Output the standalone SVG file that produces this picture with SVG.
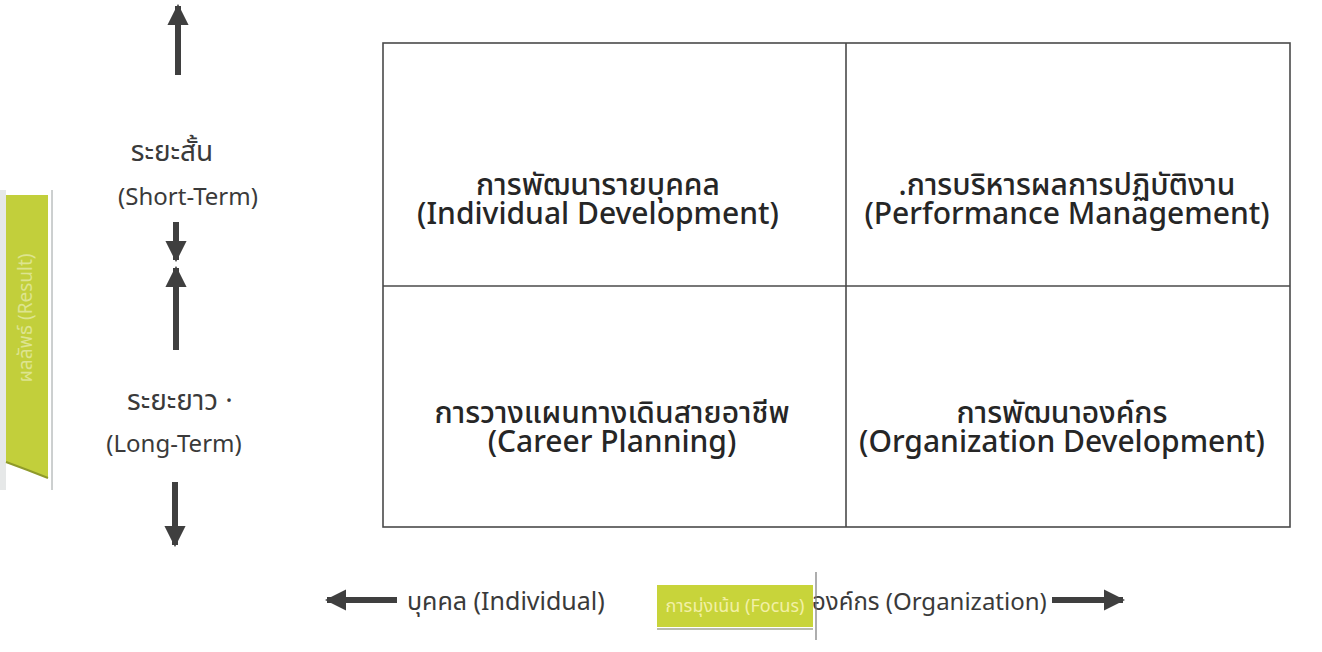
<svg xmlns="http://www.w3.org/2000/svg" width="1322" height="652" viewBox="0 0 1322 652">
<defs>
<style>
.t{font-family:"Noto Sans","Noto Sans Thai",Tahoma,"DejaVu Sans",sans-serif;fill:#333}
.q{font-size:30px;font-weight:500;text-anchor:middle;fill:#262626}
.s{font-size:24px;text-anchor:middle;fill:#3a3a3a}
.st{font-size:28px;text-anchor:middle;fill:#3a3a3a}
.b{font-size:24px;fill:#3a3a3a}
.grid{fill:none;stroke:#4a4a4a;stroke-width:1.6}
</style>
<marker id="ah" viewBox="0 0 10 10" refX="9" refY="5" markerWidth="3.6" markerHeight="3.6" orient="auto-start-reverse">
<path d="M0,0 L10,5 L0,10 z" fill="#3f3f3f"/>
</marker>
</defs>
<rect width="1322" height="652" fill="#ffffff"/>
<g id="side-tab">
<rect x="0" y="190" width="6" height="300" fill="#e6e8e8"/>
<path d="M6,195 L48,195 L48,478 Q28,470 6,462 Z" fill="#c2cf3b"/>
<path d="M6,462 Q28,470 48,478" fill="none" stroke="#8f9a2a" stroke-width="2"/>
<line x1="52" y1="190" x2="52" y2="490" stroke="#9aa0a0" stroke-width="1"/>
<text class="t" transform="translate(32,318) rotate(-90)" text-anchor="middle" font-size="19" style="fill:#dde48f">ผลลัพธ์ (Result)</text>
</g>
<g id="axis-vertical">
<g id="short-term">
<text class="t st" x="172" y="161">ระยะสั้น</text>
<text class="t s" x="188" y="205">(Short-Term)</text>
</g>
<g id="long-term">
<text class="t st" x="180" y="410">ระยะยาว ·</text>
<text class="t s" x="174" y="452">(Long-Term)</text>
</g>
</g>
<g id="grid">
<rect class="grid" x="383" y="43" width="907" height="484"/>
<line class="grid" x1="846" y1="43" x2="846" y2="527"/>
<line class="grid" x1="383" y1="286" x2="1290" y2="286"/>
</g>
<g id="q-individual-development">
<text class="t q" x="598" y="195">การพัฒนารายบุคคล</text>
<text class="t q" x="598" y="224">(Individual Development)</text>
</g>
<g id="q-performance-management">
<text class="t q" x="1067" y="195">.การบริหารผลการปฏิบัติงาน</text>
<text class="t q" x="1067" y="224">(Performance Management)</text>
</g>
<g id="q-career-planning">
<text class="t q" x="612" y="423">การวางแผนทางเดินสายอาชีพ</text>
<text class="t q" x="612" y="452">(Career Planning)</text>
</g>
<g id="q-organization-development">
<text class="t q" x="1062" y="423">การพัฒนาองค์กร</text>
<text class="t q" x="1062" y="452">(Organization Development)</text>
</g>
<g id="axis-horizontal">
<text class="t b" x="407" y="610" style="font-size:25px">บุคคล (Individual)</text>
<text class="t b" x="812" y="610">องค์กร (Organization)</text>
<g id="focus">
<rect x="657" y="585" width="156" height="42" fill="#c8d43a"/>
<line x1="657" y1="629" x2="813" y2="629" stroke="#b9bcae" stroke-width="2"/>
<line x1="816" y1="572" x2="816" y2="640" stroke="#777" stroke-width="1.2"/>
<text class="t" x="735" y="612" text-anchor="middle" font-size="18" style="fill:#f2f0a6">การมุ่งเน้น (Focus)</text>
</g>
</g>
<g id="connectors">
<line x1="178" y1="75" x2="178" y2="6" stroke="#3f3f3f" stroke-width="6" marker-end="url(#ah)"/>
<line x1="176" y1="222" x2="176" y2="260" stroke="#3f3f3f" stroke-width="6" marker-end="url(#ah)"/>
<line x1="176" y1="350" x2="176" y2="268" stroke="#3f3f3f" stroke-width="6" marker-end="url(#ah)"/>
<line x1="175" y1="482" x2="175" y2="545" stroke="#3f3f3f" stroke-width="6" marker-end="url(#ah)"/>
<line x1="397" y1="600" x2="327" y2="600" stroke="#3f3f3f" stroke-width="6" marker-end="url(#ah)"/>
<line x1="1052" y1="600" x2="1123" y2="600" stroke="#3f3f3f" stroke-width="6" marker-end="url(#ah)"/>
</g>
</svg>
